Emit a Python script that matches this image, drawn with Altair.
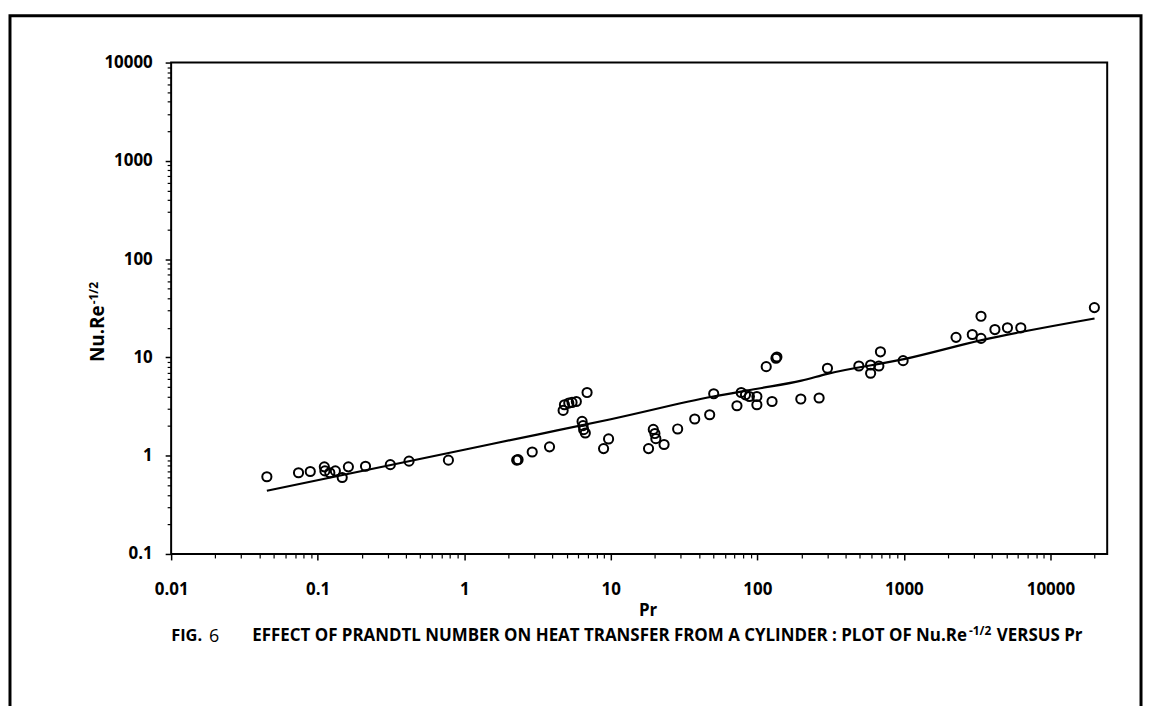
import altair as alt
import pandas as pd

# Measured data points (Pr, Nu.Re^-1/2)
pr = [0.045, 0.074, 0.089, 0.111, 0.112, 0.121, 0.132, 0.147, 0.162, 0.212,
      0.313, 0.42, 0.78, 2.28, 2.33, 2.91, 3.82, 4.73, 4.83, 5.17,
      5.44, 5.82, 6.89, 6.37, 6.47, 6.53, 6.70, 8.93, 9.66, 18.1,
      19.5, 20.0, 20.3, 23.1, 28.6, 37.4, 47.3, 50.4, 72.6, 77.6,
      83.0, 88.3, 99.3, 99.3, 115, 126, 134, 136, 198, 264,
      301, 493, 593, 593, 675, 692, 988, 2270, 2930, 3360,
      3360, 4180, 5090, 6280, 19950]
nu = [0.61, 0.67, 0.69, 0.77, 0.70, 0.67, 0.70, 0.60, 0.77, 0.78,
      0.81, 0.88, 0.90, 0.90, 0.91, 1.09, 1.23, 2.89, 3.30, 3.43,
      3.48, 3.56, 4.39, 2.23, 2.02, 1.84, 1.70, 1.18, 1.48, 1.18,
      1.85, 1.68, 1.49, 1.30, 1.87, 2.36, 2.61, 4.27, 3.22, 4.39,
      4.16, 4.00, 4.00, 3.30, 8.05, 3.56, 9.80, 10.1, 3.77, 3.86,
      7.76, 8.18, 8.37, 6.90, 8.18, 11.4, 9.27, 16.0, 17.1, 15.6,
      26.2, 19.2, 20.0, 20.0, 32.1]

# Correlation line
fit_pr = [0.045, 1, 3.15, 10, 50, 100, 200, 300, 1000, 3400, 20000]
fit_nu = [0.44, 1.15, 1.64, 2.35, 4.0, 4.8, 5.8, 6.8, 9.6, 15.0, 24.9]

# Axis ticks
x_major = [0.01, 0.1, 1, 10, 100, 1000, 10000]
y_major = [0.1, 1, 10, 100, 1000, 10000]
mult = [2, 3, 4, 5, 6, 7, 8, 9]
x_minor = [m * d for d in x_major[:-1] for m in mult] + [20000]
y_minor = [m * d for d in y_major[:-1] for m in mult]

x_domain = [0.01, 24400]
y_domain = [0.1, 10000]

FONT = "Open Sans"

df = pd.DataFrame({"Pr": pr, "Nu": nu})
dfl = pd.DataFrame({"Pr": fit_pr, "Nu": fit_nu})
one = pd.DataFrame({"k": [0]})

xs = alt.Scale(type="log", domain=x_domain, nice=False)
ys = alt.Scale(type="log", domain=y_domain, nice=False)

common = dict(domain=False, grid=False, tickColor="black", tickWidth=1.5,
              labelFont=FONT, labelFontSize=17, labelFontWeight="bold",
              labelColor="black", labelOverlap=False, labelFlush=False)

ax_x = alt.Axis(values=x_major, format="~g", orient="bottom", tickSize=6,
                labelPadding=22, title="Pr", titleX=479, titleY=62,
                titleAlign="center", titleBaseline="alphabetic", titleFont=FONT,
                titleFontSize=17, titleFontWeight="bold", titleColor="black",
                **common)
ax_y = alt.Axis(values=y_major, format="~g", orient="left", tickSize=6,
                labelPadding=13, title=None, **common)
ax_x_minor = alt.Axis(values=x_minor, labels=False, orient="bottom", tickSize=4,
                      domain=False, grid=False, tickColor="black", tickWidth=1.2,
                      title=None)
ax_y_minor = alt.Axis(values=y_minor, labels=False, orient="left", tickSize=4,
                      domain=False, grid=False, tickColor="black", tickWidth=1.2,
                      title=None)

points = alt.Chart(df).mark_point(shape="circle", filled=False, color="black",
                                  size=85, strokeWidth=2, opacity=1).encode(
    x=alt.X("Pr:Q", scale=xs, axis=ax_x),
    y=alt.Y("Nu:Q", scale=ys, axis=ax_y),
)

fit = alt.Chart(dfl).mark_line(color="black", strokeWidth=2.2,
                               interpolate="monotone").encode(
    x=alt.X("Pr:Q", scale=xs, axis=ax_x_minor),
    y=alt.Y("Nu:Q", scale=ys, axis=ax_y_minor),
)

frame = alt.Chart(one).mark_rect(fill=None, stroke="black", strokeWidth=3).encode(
    x=alt.value(-162), x2=alt.value(975), y=alt.value(-47), y2=alt.value(900)
)


def label(txt, x, y, size, weight="bold", align="left", angle=0, font=FONT):
    return alt.Chart(one).mark_text(
        text=txt, font=font, fontSize=size, fontWeight=weight, color="black",
        align=align, baseline="alphabetic", angle=angle
    ).encode(x=alt.value(x), y=alt.value(y))


ytitle = label("Nu.Re", -67, 244, 19, align="right", angle=270)
ytitle_sup = label("-1/2", -74, 243, 12, align="left", angle=270)

cap_fig = label("FIG.", 0, 582, 16.5)
cap_six = label("6", 38, 583, 18, weight="normal")
cap_main = label("EFFECT OF PRANDTL NUMBER ON HEAT TRANSFER FROM A CYLINDER : PLOT OF Nu.Re",
                 800, 582, 17, align="right")
cap_sup = label("-1/2", 802, 575, 12)
cap_end = label("VERSUS Pr", 830, 582, 17)

chart = alt.layer(
    frame, fit, points, ytitle, ytitle_sup, cap_fig, cap_six, cap_main, cap_sup, cap_end
).resolve_axis(x="independent", y="independent").properties(
    width=941, height=494, autosize="none",
    padding={"left": 164, "top": 53, "right": 37, "bottom": 151},
    background="white",
).configure_view(stroke="black", strokeWidth=2)

chart.save("out.html", embed_options={"renderer": "svg", "actions": False})
